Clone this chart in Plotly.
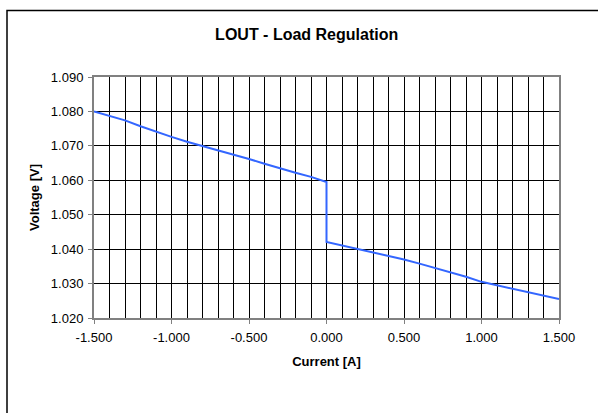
import plotly.graph_objects as go

# Data
current_a = [-1.5, -1.4, -1.3, -1.2, -1.1, -1.0, -0.9, -0.8, -0.7, -0.6, -0.5, -0.4, -0.3, -0.2, -0.1, 0.0,
             0.0, 0.1, 0.2, 0.3, 0.4, 0.5, 0.6, 0.7, 0.8, 0.9, 1.0, 1.1, 1.2, 1.3, 1.4, 1.5]
voltage_v = [1.0800, 1.0787, 1.0774, 1.0757, 1.0741, 1.0726, 1.0712, 1.0700, 1.0687, 1.0674,
             1.0662, 1.0648, 1.0634, 1.0622, 1.0610, 1.0595,
             1.0421, 1.0411, 1.0401, 1.0391, 1.0381, 1.0370, 1.0358, 1.0346, 1.0333, 1.0320,
             1.0305, 1.0295, 1.0283, 1.0273, 1.0265, 1.0255]

x_tick_vals = [-1.5, -1.0, -0.5, 0.0, 0.5, 1.0, 1.5]
x_tick_text = ["-1.500", "-1.000", "-0.500", "0.000", "0.500", "1.000", "1.500"]
y_tick_vals = [1.020, 1.030, 1.040, 1.050, 1.060, 1.070, 1.080, 1.090]
y_tick_text = ["1.020", "1.030", "1.040", "1.050", "1.060", "1.070", "1.080", "1.090"]

FONT = "Liberation Sans, Arial, sans-serif"

fig = go.Figure()
fig.add_trace(go.Scatter(
    x=current_a, y=voltage_v, mode="lines",
    line=dict(color="#3366FF", width=2),
    showlegend=False, hoverinfo="x+y",
))

L, R, T, B = 94, 39, 77, 95
W, H = 598, 413
pw = W - L - R
ph = H - T - B

fig.update_layout(
    width=W, height=H,
    margin=dict(l=L, r=R, t=T, b=B, pad=0),
    paper_bgcolor="white", plot_bgcolor="white",
    font=dict(family=FONT, size=13, color="black"),
    title=dict(text="<b>LOUT - Load Regulation</b>", font=dict(size=16, family=FONT, color="black"),
               x=273.5 / W, xref="paper", xanchor="center",
               y=1 - 34.5 / H, yref="container", yanchor="middle"),
    xaxis=dict(
        range=[-1.5, 1.5], tickmode="array", tickvals=x_tick_vals, ticktext=x_tick_text,
        showgrid=True, gridcolor="black", gridwidth=1,
        minor=dict(tickmode="linear", tick0=0, dtick=0.1, showgrid=True,
                   gridcolor="black", gridwidth=1, ticks=""),
        showline=True, linecolor="#808080", linewidth=2, mirror=True,
        ticks="outside", ticklen=4, tickcolor="#808080", tickwidth=1,
        ticklabelstandoff=2,
        tickfont=dict(size=13, family=FONT),
        title=dict(text="<b>Current [A]</b>", font=dict(size=13, family=FONT), standoff=13),
        zeroline=False, fixedrange=True,
    ),
    yaxis=dict(
        range=[1.020, 1.090], tickmode="array", tickvals=y_tick_vals, ticktext=y_tick_text,
        showgrid=True, gridcolor="black", gridwidth=1,
        showline=True, linecolor="#808080", linewidth=2, mirror=True,
        ticks="outside", ticklen=4, tickcolor="#808080", tickwidth=1,
        ticklabelstandoff=2,
        tickfont=dict(size=13, family=FONT),
        title=dict(text="<b>Voltage [V]</b>", font=dict(size=13, family=FONT), standoff=8),
        zeroline=False, fixedrange=True,
    ),
    shapes=[dict(
        type="rect", xref="paper", yref="paper",
        x0=(7 - L) / pw, x1=(W + 20 - L) / pw,
        y0=-(B + 20) / ph, y1=1 + (T - 10.5) / ph,
        line=dict(color="black", width=1.5), fillcolor="rgba(0,0,0,0)", layer="below",
    )],
)

fig.write_html(
    "out.html",
    config={"displayModeBar": False},
    post_script="document.body.style.margin='0';document.body.style.padding='0';"
                "document.body.style.overflow='hidden';",
)
